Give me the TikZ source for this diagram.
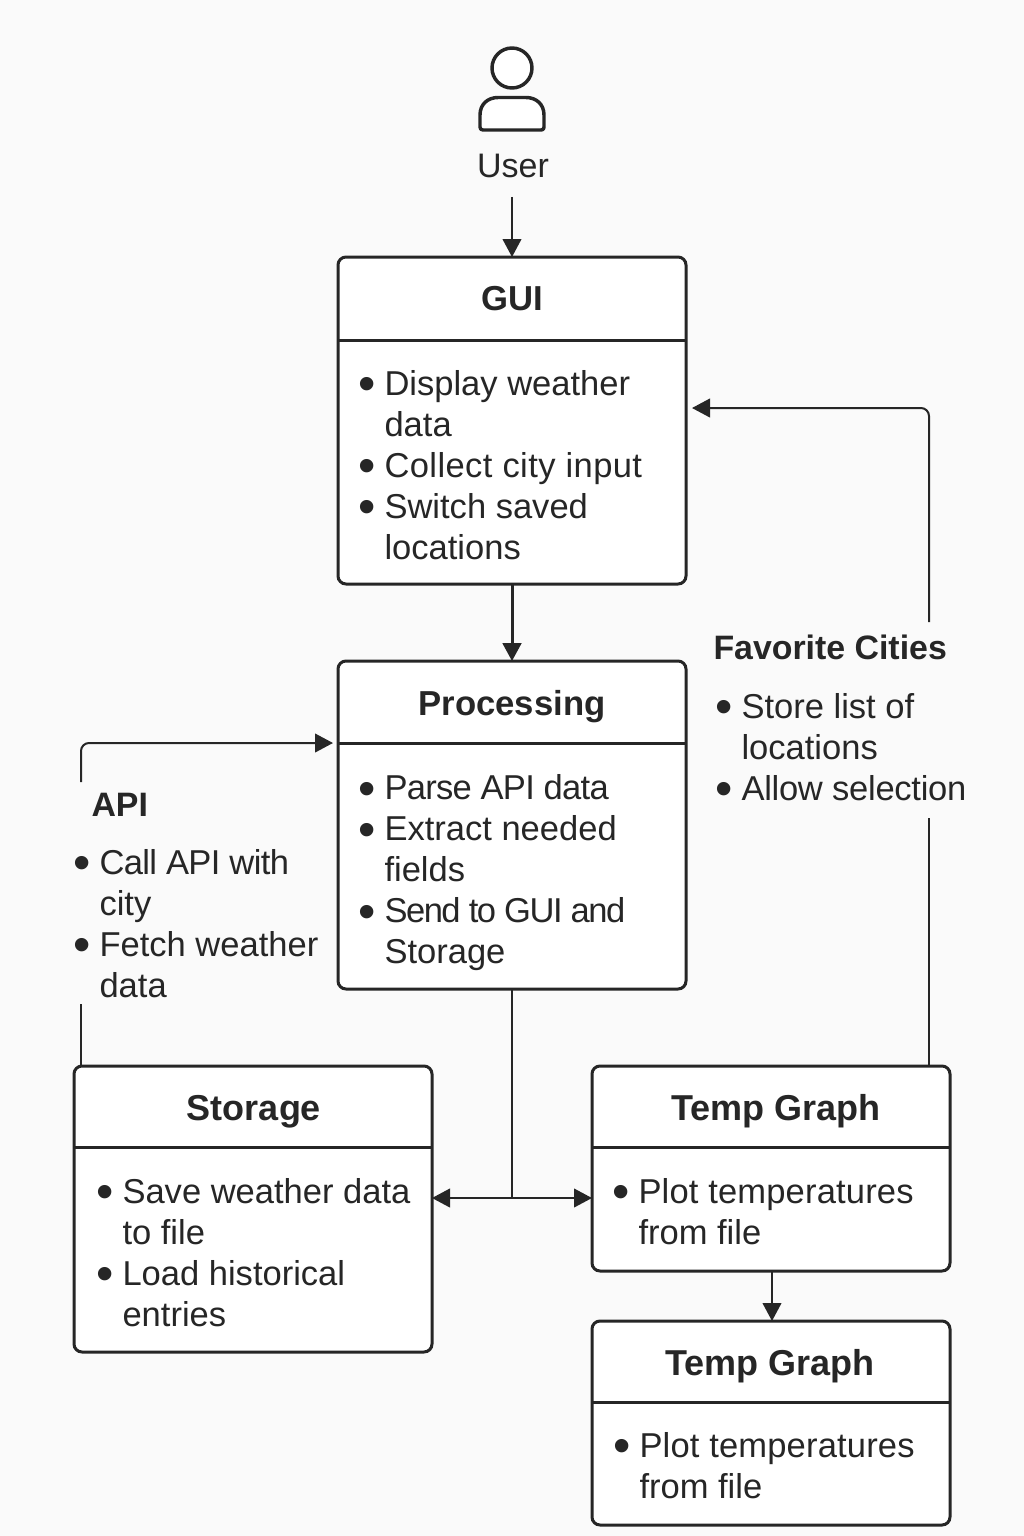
\documentclass[tikz,border=0pt]{standalone}
\usepackage{fontspec}
\setmainfont{Liberation Sans}
\usetikzlibrary{arrows.meta}
\tikzset{every picture/.style={line width=0.75pt}}
\definecolor{inkc}{HTML}{262626}
\definecolor{pagec}{HTML}{FAFAFA}
\tikzset{
  box/.style={draw=inkc,fill=white,line width=2.25pt,rounded corners=6pt,inner sep=0pt,outer sep=0pt},
  rule/.style={draw=inkc,line width=2.25pt},
  link/.style={draw=inkc,line width=1.5pt},
  tip/.style={link,-{Triangle[length=13.5pt,width=14pt,color=inkc]}},
  title/.style={anchor=base,inner sep=0pt,text=inkc,font=\fontsize{26}{30}\selectfont\bfseries},
  widetitle/.style={title,font=\fontsize{27}{30}\selectfont\bfseries},
  sidetitle/.style={anchor=base west,inner sep=0pt,text=inkc,font=\fontsize{25.4}{30}\selectfont\bfseries},
  body/.style={anchor=west,inner sep=0pt,align=left,text=inkc,font=\fontsize{25.9}{30.75}\selectfont},
}
\newcommand{\bul}{\makebox[18pt][l]{\hspace*{-1.2pt}\smash{\raisebox{-4pt}{\fontsize{37}{30}\selectfont\textbullet}}}}
\newcommand{\ind}{\hspace*{18pt}}
\newcommand{\tight}[2]{{\addfontfeature{LetterSpace=#1}#2}}

\begin{document}
\begin{tikzpicture}[x=0.75pt,y=0.75pt,yscale=-1,xscale=1]
\useasboundingbox (0,0) rectangle (1024,1536);
\fill [pagec] (0,0) rectangle (1024,1536);

%User icon
\node [draw=inkc,fill=white,circle,line width=2.6pt,minimum size=30pt,inner sep=0pt] (head) at (512,68) {};
\draw [draw=inkc,fill=white,line width=2.6pt,line join=round] (480,127) -- (480,115) .. controls (480,104) and (488,97.5) .. (498,97.5) -- (526,97.5) .. controls (536,97.5) and (544,104) .. (544,115) -- (544,127) .. controls (544,129) and (543,130) .. (541,130) -- (483,130) .. controls (481,130) and (480,129) .. (480,127) -- cycle ;
\node [anchor=base,inner sep=0pt,text=inkc,font=\fontsize{25.5}{30}\selectfont] (user) at (513,177) {User};

%Boxes
\node [box,minimum width=261pt,minimum height=245.25pt] (gui) at (512,420.5) {};
\node [box,minimum width=261pt,minimum height=246pt] (proc) at (512,825) {};
\node [box,minimum width=268.5pt,minimum height=214.5pt] (storage) at (253,1209) {};
\node [box,minimum width=268.5pt,minimum height=153.75pt] (tempa) at (771,1168.5) {};
\node [box,minimum width=268.5pt,minimum height=153pt] (tempb) at (771,1423) {};

%Header rules
\coordinate (guihead) at (512,340);
\coordinate (prochead) at (512,743);
\coordinate (storagehead) at (253,1147);
\coordinate (tempahead) at (771,1147);
\coordinate (tempbhead) at (771,1402);
\draw [rule] (gui.west |- guihead) -- (gui.east |- guihead);
\draw [rule] (proc.west |- prochead) -- (proc.east |- prochead);
\draw [rule] (storage.west |- storagehead) -- (storage.east |- storagehead);
\draw [rule] (tempa.west |- tempahead) -- (tempa.east |- tempahead);
\draw [rule] (tempb.west |- tempbhead) -- (tempb.east |- tempbhead);

%Connectors
\coordinate (guiin) at (692,408);
\coordinate (procin) at (333,743);
\coordinate (favtop) at (929,622);
\coordinate (favbot) at (929,818);
\coordinate (apitop) at (81,782);
\coordinate (apibot) at (81,1004);
\coordinate (split) at (512,1198);
\draw [tip,shorten <=14.25pt] (user.south -| gui.north) -- (gui.north);
\draw [tip,line width=2.25pt] (gui.south) -- (proc.north);
\draw [tip,rounded corners=6pt] (favtop) |- (guiin);
\draw [link] (favbot) -- (tempa.north -| favbot);
\draw [tip,rounded corners=6pt] (apitop) |- (procin);
\draw [link] (apibot) -- (storage.north -| apibot);
\draw [link] (proc.south) -- (split);
\draw [tip] (split) -- (storage.east |- split);
\draw [tip] (split) -- (tempa.west |- split);
\draw [tip] ([xshift=0.75pt]tempa.south) -- ([xshift=0.75pt]tempb.north);

%Titles
\node [title] (guititle) at (512,310) {GUI};
\node [title] (proctitle) at (512,715) {Processing};
\node [widetitle] (storagetitle) at (254,1120) {Storage};
\node [widetitle] (tempatitle) at (776,1120) {Temp Graph};
\node [widetitle] (tempbtitle) at (770,1375) {Temp Graph};
\node [sidetitle] (apititle) at (91,816) {API};
\node [sidetitle] (favtitle) at (713,659) {Favorite Cities};

%Lists
\node [body] (guilist) at (360,465) {\bul Display weather\\\ind data\\\bul \tight{1.2}{Collect city input}\\\bul Switch saved\\\ind locations};
\node [body] (proclist) at (360,873) {\bul \tight{-2.1}{Parse API data}\\\bul Extract needed\\\ind fields\\\bul \tight{-4.3}{Send to GUI and}\\\ind Storage};
\node [body] (apilist) at (75,923.5) {\bul \tight{-1.8}{Call API with}\\\ind city\\\bul Fetch weather\\\ind data};
\node [body] (favlist) at (717,747) {\bul Store list of\\\ind locations\\\bul \tight{-0.8}{Allow selection}};
\node [body] (storagelist) at (98,1252.5) {\bul Save weather data\\\ind to file\\\bul Load historical\\\ind entries};
\node [body] (tempalist) at (614,1211.5) {\bul \tight{0.5}{Plot temperatures}\\\ind from file};
\node [body] (tempblist) at (615,1465.5) {\bul \tight{0.5}{Plot temperatures}\\\ind from file};

\end{tikzpicture}
\end{document}
